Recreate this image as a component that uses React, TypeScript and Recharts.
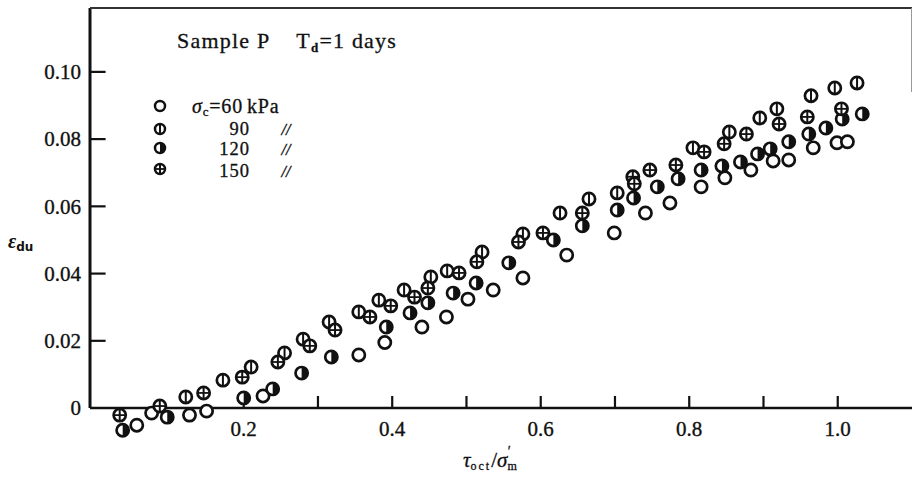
import React from "react";
import {
  ScatterChart,
  Scatter,
  XAxis,
  YAxis,
  ReferenceLine,
  Legend,
  Label,
} from "recharts";

// values: tau_oct / sigma_m' (x) vs eps_du (y)
const open60X = [0.056, 0.076, 0.127, 0.150, 0.226, 0.355, 0.390, 0.440, 0.473, 0.502, 0.536, 0.576, 0.635, 0.699, 0.741, 0.774, 0.816, 0.848, 0.883, 0.913, 0.934, 0.967, 0.999, 1.013];
const open60Y = [-0.0051, -0.0015, -0.0021, -0.0009, 0.0036, 0.0158, 0.0195, 0.0241, 0.0271, 0.0324, 0.0351, 0.0387, 0.0455, 0.0521, 0.058, 0.061, 0.0658, 0.0685, 0.0708, 0.0735, 0.0738, 0.0774, 0.0789, 0.0792];

const bar90X = [0.122, 0.172, 0.210, 0.255, 0.280, 0.315, 0.355, 0.382, 0.416, 0.452, 0.474, 0.521, 0.576, 0.626, 0.665, 0.703, 0.805, 0.854, 0.895, 0.918, 0.964, 0.996, 1.026];
const bar90Y = [0.0033, 0.0083, 0.0122, 0.0164, 0.0205, 0.0256, 0.0286, 0.0321, 0.0351, 0.039, 0.0408, 0.0464, 0.0518, 0.058, 0.0622, 0.064, 0.0774, 0.0821, 0.0863, 0.089, 0.0929, 0.0952, 0.0967];

const half120X = [0.037, 0.097, 0.200, 0.239, 0.278, 0.318, 0.392, 0.424, 0.448, 0.482, 0.513, 0.557, 0.617, 0.656, 0.703, 0.725, 0.757, 0.785, 0.816, 0.844, 0.869, 0.892, 0.909, 0.934, 0.961, 0.984, 1.006, 1.033];
const half120Y = [-0.0066, -0.0027, 0.003, 0.0057, 0.0104, 0.0152, 0.0241, 0.0283, 0.0313, 0.0342, 0.0372, 0.0432, 0.05, 0.0542, 0.0589, 0.0625, 0.0658, 0.0682, 0.0708, 0.072, 0.0732, 0.0756, 0.0771, 0.0792, 0.0815, 0.0833, 0.086, 0.0875];

const cross150X = [0.033, 0.087, 0.146, 0.198, 0.246, 0.289, 0.323, 0.370, 0.398, 0.430, 0.448, 0.490, 0.514, 0.570, 0.603, 0.656, 0.724, 0.726, 0.747, 0.782, 0.820, 0.847, 0.877, 0.921, 0.959, 1.005];
const cross150Y = [-0.0021, 0.0006, 0.0045, 0.0092, 0.0137, 0.0185, 0.0232, 0.0271, 0.0304, 0.033, 0.0357, 0.0402, 0.0435, 0.0494, 0.0521, 0.058, 0.0688, 0.0667, 0.0708, 0.0723, 0.0762, 0.0786, 0.0815, 0.0845, 0.0866, 0.089];

const xTicks = [0.2, 0.4, 0.6, 0.8, 1.0];
const xMinorTicks = [0.2, 0.3, 0.4, 0.5, 0.6, 0.7, 0.8, 0.9, 1.0];
const yTicks = [0, 0.02, 0.04, 0.06, 0.08, 0.1];
const pressures = ["60", "90", "120", "150"];

const X_DOMAIN: [number, number] = [-0.007, 1.1];
const Y_DOMAIN: [number, number] = [-0.0095, 0.119];
const INK = "#111";
const SERIF = "'Liberation Serif', 'Times New Roman', serif";

const toPoints = (xs: number[], ys: number[]) => xs.map((x, i) => ({ x, y: ys[i] }));

function Marker({ cx, cy, kind, r = 6.1, sw = 2.7 }: { cx: number; cy: number; kind: string; r?: number; sw?: number }) {
  return (
    <g>
      <circle cx={cx} cy={cy} r={r} fill="#fff" stroke={INK} strokeWidth={sw} />
      {kind === "120" && (
        <path d={`M${cx},${cy - r} A${r},${r} 0 0 1 ${cx},${cy + r} Z`} fill={INK} />
      )}
      {(kind === "90" || kind === "150") && (
        <line x1={cx} x2={cx} y1={cy - r} y2={cy + r} stroke={INK} strokeWidth={2} />
      )}
      {kind === "150" && (
        <line x1={cx - r} x2={cx + r} y1={cy} y2={cy} stroke={INK} strokeWidth={1.8} />
      )}
    </g>
  );
}

const shapeFor = (kind: string) => (props: any) => (
  <Marker cx={props.cx} cy={props.cy} kind={kind} />
);

function XTick({ x, y, payload }: any) {
  return (
    <text x={x} y={y - 4} textAnchor="middle" fontSize={21} fontFamily={SERIF} fill={INK} stroke={INK} strokeWidth={0.35}>
      {Number(payload.value).toFixed(1)}
    </text>
  );
}

function YTick({ x, y, payload }: any) {
  const v = Number(payload.value);
  return (
    <text x={x - 9} y={y} dy="0.35em" textAnchor="end" fontSize={21} fontFamily={SERIF} fill={INK} stroke={INK} strokeWidth={0.35}>
      {v === 0 ? "0" : v.toFixed(2)}
    </text>
  );
}

function LegendBox() {
  const rows = [14, 37, 56, 77];
  const base = [21, 43, 63, 85];
  return (
    <svg width={200} height={100} style={{ display: "block" }}>
      {pressures.map((p, i) => (
        <g key={p}>
          <Marker cx={20} cy={rows[i]} kind={p} r={5} sw={2.5} />
          {i === 0 ? (
            <text x={52} y={base[i]} fontSize={20} fontFamily={SERIF} fill={INK} stroke={INK} strokeWidth={0.3} letterSpacing={0.8}>
              <tspan fontStyle="italic">σ</tspan>
              <tspan fontSize={13} dy={3}>c</tspan>
              <tspan dy={-3}>=60</tspan>
              <tspan dx={4}>kPa</tspan>
            </text>
          ) : (
            <>
              <text x={110} y={base[i]} textAnchor="end" fontSize={18.5} fontFamily={SERIF} fill={INK} stroke={INK} strokeWidth={0.3} letterSpacing={1}>
                {p}
              </text>
              <text x={146} y={base[i]} textAnchor="middle" fontSize={16} fontStyle="italic" fontFamily={SERIF} fill={INK} stroke={INK} strokeWidth={0.4}>
                {"//"}
              </text>
            </>
          )}
        </g>
      ))}
    </svg>
  );
}

export default function App() {
  return (
    <div style={{ position: "absolute", left: 0, top: 0, background: "#fff" }}>
      <ScatterChart width={912} height={480} margin={{ top: 8, right: 0, left: 0, bottom: 10 }}>
        <XAxis
          type="number"
          dataKey="x"
          domain={X_DOMAIN}
          allowDataOverflow
          ticks={xTicks}
          axisLine={false}
          tickLine={false}
          tickSize={0}
          tickMargin={0}
          height={30}
          tick={<XTick />}
        >
          <Label
            content={({ viewBox }: any) => (
              <text
                x={viewBox.x + viewBox.width / 2 - 38}
                y={viewBox.y + 27}
                fontSize={21}
                fontFamily={SERIF}
                fill={INK}
                stroke={INK}
                strokeWidth={0.3}
              >
                <tspan fontStyle="italic">τ</tspan>
                <tspan fontSize={12} dy={3} letterSpacing={2}>oct</tspan>
                <tspan dy={-3}>/</tspan>
                <tspan fontStyle="italic">σ</tspan>
                <tspan fontSize={12} dy={3}>m</tspan>
                <tspan fontSize={14} dx={-9} dy={-14}>′</tspan>
              </text>
            )}
          />
        </XAxis>
        <YAxis
          type="number"
          dataKey="y"
          domain={Y_DOMAIN}
          allowDataOverflow
          ticks={yTicks}
          axisLine={false}
          tickLine={false}
          tickSize={0}
          tickMargin={0}
          width={90}
          tick={<YTick />}
        >
          <Label
            content={() => (
              <text x={8} y={248} fontSize={20} fontFamily={SERIF} fill={INK}>
                <tspan fontStyle="italic" fontWeight="bold">ε</tspan>
                <tspan fontSize={12} dy={3} fontWeight="bold" fontFamily="'DejaVu Sans', sans-serif">du</tspan>
              </text>
            )}
          />
        </YAxis>

        {/* frame: left axis, bottom axis, top edge, right edge */}
        <ReferenceLine segment={[{ x: X_DOMAIN[0], y: 0 }, { x: X_DOMAIN[0], y: Y_DOMAIN[1] }]} stroke={INK} strokeWidth={3} />
        <ReferenceLine segment={[{ x: X_DOMAIN[0], y: 0 }, { x: X_DOMAIN[1], y: 0 }]} stroke={INK} strokeWidth={2.4} />
        <ReferenceLine segment={[{ x: X_DOMAIN[0], y: Y_DOMAIN[1] }, { x: X_DOMAIN[1], y: Y_DOMAIN[1] }]} stroke="#333" strokeWidth={2} />
        <ReferenceLine segment={[{ x: X_DOMAIN[1], y: 0.094 }, { x: X_DOMAIN[1], y: Y_DOMAIN[1] }]} stroke="#999" strokeWidth={2} />
        {yTicks.slice(1).map((v) => (
          <ReferenceLine key={`yt${v}`} segment={[{ x: X_DOMAIN[0], y: v }, { x: 0.014, y: v }]} stroke={INK} strokeWidth={2.2} />
        ))}
        {xMinorTicks.map((v) => (
          <ReferenceLine key={`xt${v}`} segment={[{ x: v, y: 0 }, { x: v, y: 0.0036 }]} stroke={INK} strokeWidth={2.2} />
        ))}

        <Scatter name="60" data={toPoints(open60X, open60Y)} shape={shapeFor("60")} isAnimationActive={false} />
        <Scatter name="90" data={toPoints(bar90X, bar90Y)} shape={shapeFor("90")} isAnimationActive={false} />
        <Scatter name="120" data={toPoints(half120X, half120Y)} shape={shapeFor("120")} isAnimationActive={false} />
        <Scatter name="150" data={toPoints(cross150X, cross150Y)} shape={shapeFor("150")} isAnimationActive={false} />

        <Legend
          layout="horizontal"
          verticalAlign="middle"
          content={() => <LegendBox />}
          wrapperStyle={{ position: "absolute", left: 140, top: 92, width: 200, height: 100 }}
        />
      </ScatterChart>
      <div
        style={{
          position: "absolute",
          left: 177,
          top: 28,
          fontFamily: SERIF,
          fontSize: 22,
          color: INK,
          letterSpacing: 1.2,
          whiteSpace: "nowrap",
          WebkitTextStroke: "0.3px #111",
        }}
      >
        Sample P
        <span style={{ marginLeft: 26 }}>T</span>
        <span style={{ fontSize: 13, position: "relative", top: 4, fontWeight: "bold" }}>d</span>
        <span>=1 days</span>
      </div>
    </div>
  );
}
